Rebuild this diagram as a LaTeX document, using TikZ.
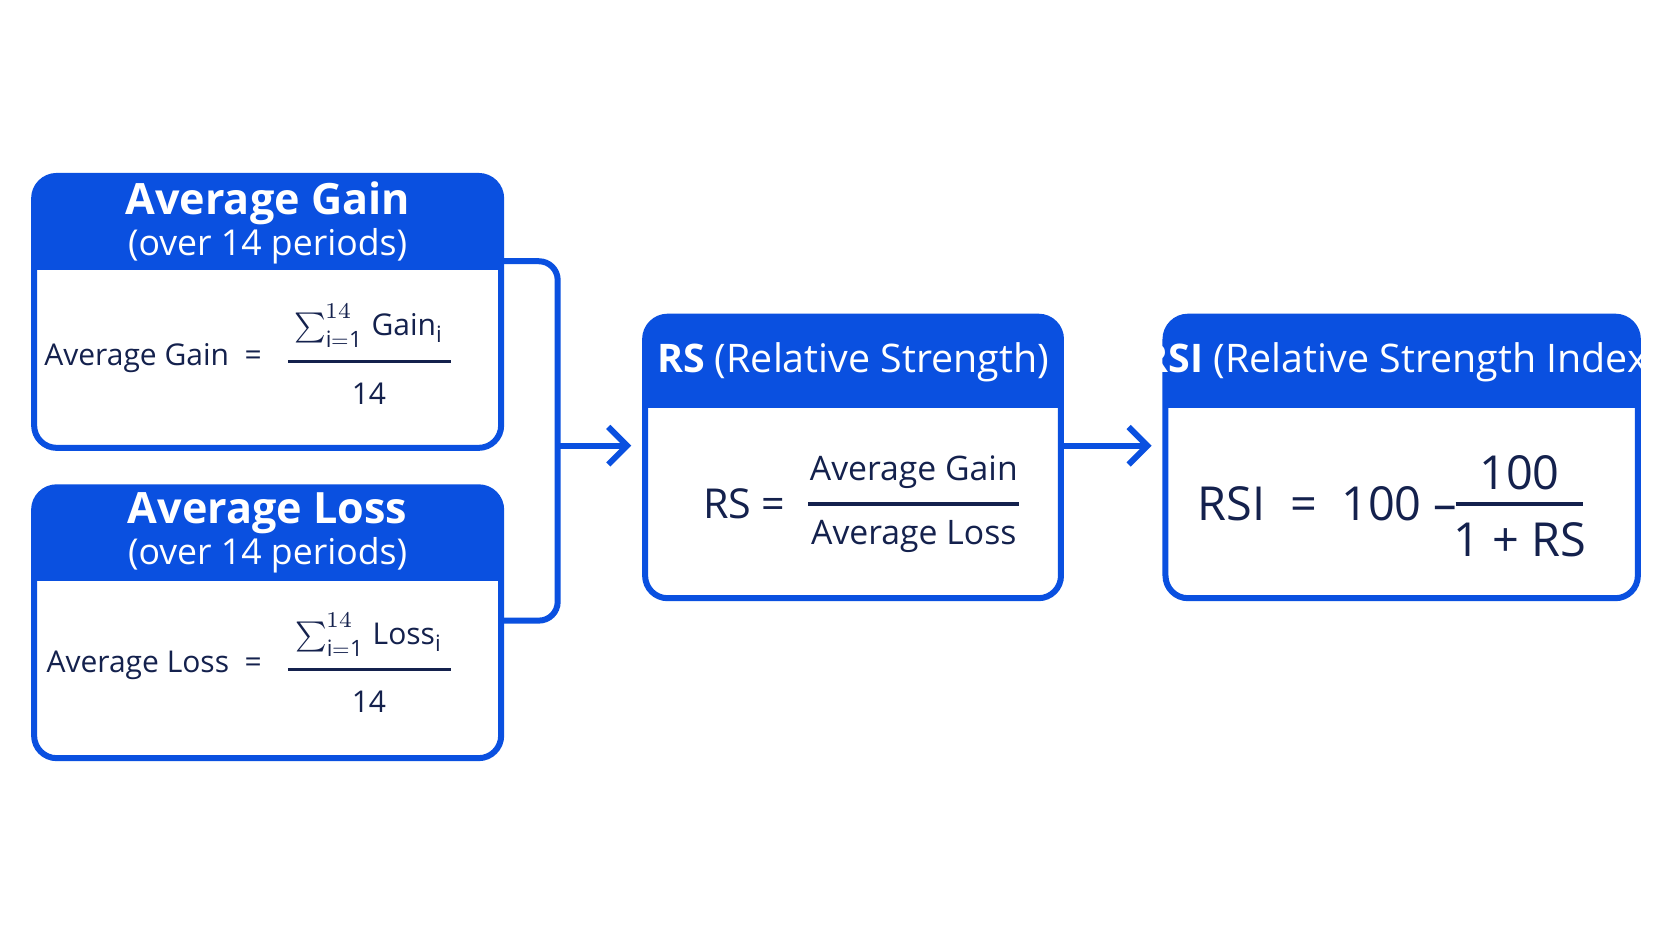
\documentclass[tikz,border=0pt]{standalone}
\usepackage{fontspec}
\setmainfont{Open Sans}
\usepackage{unicode-math}
\setmathfont{Latin Modern Math}
\usetikzlibrary{arrows.meta}
\definecolor{bl}{HTML}{0A50E0}
\definecolor{nv}{HTML}{14214D}
\begin{document}
\begin{tikzpicture}[x=0.01cm,y=-0.01cm,
  box/.style={draw=bl,line width=1.6pt,rounded corners=6pt},
  head/.style={fill=bl,rounded corners=6pt},
  htxt/.style={text=white,align=center,font=\fontsize{9.5}{11}\selectfont},
  btxt/.style={text=nv,font=\fontsize{8}{10}\selectfont},
  conn/.style={draw=bl,line width=1.6pt},
  arr/.style={conn,-{Straight Barb[length=5pt,width=10pt]}}]
\useasboundingbox (0,0) rectangle (1568,882);
\fill[white] (0,0) rectangle (1568,882);
% boxes
\newcommand{\mybox}[5]{%
  \begin{scope}
  \clip[rounded corners=6pt] (#1,#2) rectangle (#3,#4);
  \fill[bl] (#1,#2) rectangle (#3,#5);
  \end{scope}
  \draw[box] (#1,#2) rectangle (#3,#4);}
\mybox{32}{165}{470}{420}{253}
\mybox{32}{457}{470}{711}{545}
\mybox{605}{297}{995}{561}{383}
\mybox{1093}{297}{1536}{561}{383}
\node[htxt] (hg) at (251,209) {{\fontsize{11.5}{13}\selectfont\bfseries Average Gain}\\(over 14 periods)};
\node[htxt] (hl) at (251,500) {{\fontsize{11.5}{13}\selectfont\bfseries Average Loss}\\(over 14 periods)};
\node[htxt,font=\fontsize{10.5}{12}\selectfont] (hrs) at (800,340) {\textbf{RS} (Relative Strength)};
\node[htxt,font=\fontsize{10.5}{12}\selectfont] (hrsi) at (1314,340) {\textbf{RSI} (Relative Strength Index)};
% gain formula
\node[btxt,anchor=east] (ga) at (258,336) {Average Gain\ \ =};
\node[btxt] (gn) at (346,305) {$\sum_{\mathrm{i=1}}^{14}$ Gain$_{\mathrm{i}}$};
\draw[nv,line width=0.9pt] (270,339) -- (423,339);
\node[btxt] (gd) at (346,369) {14};
\node[btxt,anchor=east] (la) at (258,624) {Average Loss\ \ =};
\node[btxt] (ln) at (346,595) {$\sum_{\mathrm{i=1}}^{14}$ Loss$_{\mathrm{i}}$};
\draw[nv,line width=0.9pt] (270,628) -- (423,628);
\node[btxt] (ld) at (346,658) {14};
% RS
\node[btxt,font=\fontsize{11}{13}\selectfont] (rsl) at (698,472) {RS =};
\node[btxt,font=\fontsize{9}{11}\selectfont] (rsn) at (857,443) {Average Gain};
\draw[nv,line width=1pt] (758,473) -- (956,473);
\node[btxt,font=\fontsize{9}{11}\selectfont] (rsd) at (857,503) {Average Loss};
% RSI
\node[btxt,font=\fontsize{12.5}{14}\selectfont] (rsil) at (1245,472) {RSI\ \ =\ \ 100 –};
\node[btxt,font=\fontsize{12.5}{14}\selectfont] (rsin) at (1425,443) {100};
\draw[nv,line width=1pt] (1365,473) -- (1485,473);
\node[btxt,font=\fontsize{12.5}{14}\selectfont] (rsid) at (1425,506) {1 + RS};
% connectors
\coordinate (g) at (470,245);
\coordinate (l) at (470,582);
\coordinate (m) at (523,418);
\coordinate (rsin) at (592,418);
\coordinate (rso) at (995,418);
\coordinate (rsiin) at (1080,418);
\draw[conn,rounded corners=5pt] (g) -- (523,245) -- (523,582) -- (l);
\draw[arr] (m) -- (rsin);
\draw[arr] (rso) -- (rsiin);
\end{tikzpicture}
\end{document}
